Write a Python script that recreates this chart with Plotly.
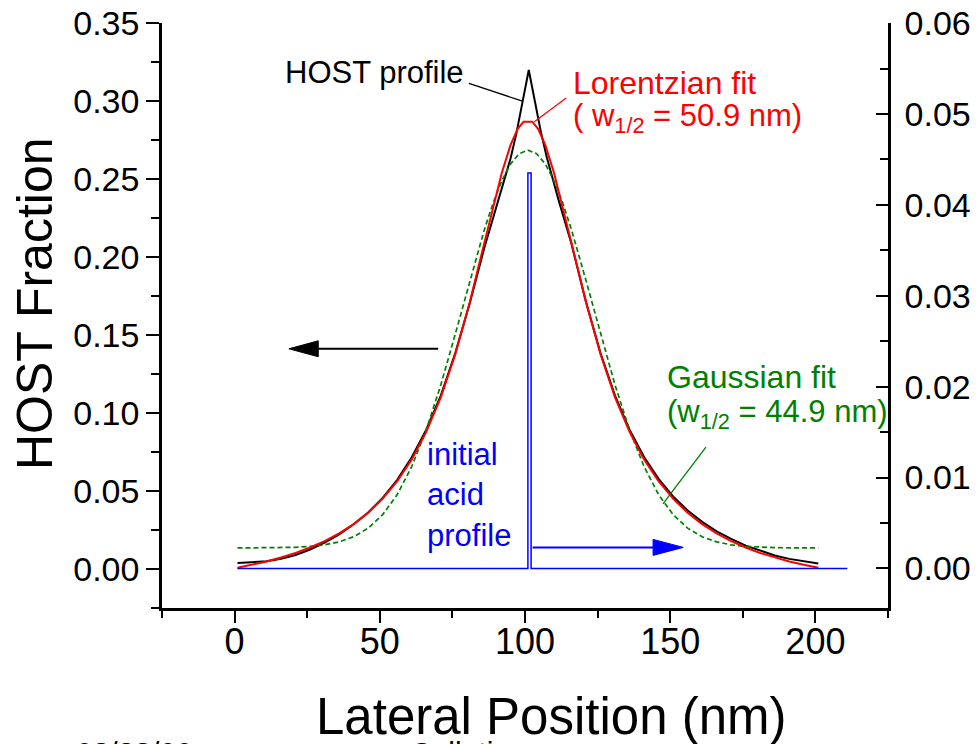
import plotly.graph_objects as go

# ---- data -------------------------------------------------------------
# HOST profile (simulated), lateral position in nm
host_x = [1, 6, 11, 16, 21, 26, 31, 36, 41, 46, 51, 56, 61, 66, 71, 76, 81, 86,
          91, 93, 95, 97, 99, 101.3, 103.5, 105.5, 107.5, 109.5, 111.5,
          116, 121, 126, 131, 136, 141, 146, 151, 156, 161, 166, 171, 176,
          181, 186, 191, 196, 201]
host_y = [0.0038, 0.0042, 0.0050, 0.0066, 0.0090, 0.0125, 0.0170, 0.0222,
          0.0287, 0.0363, 0.0456, 0.0572, 0.0716, 0.0893, 0.1112, 0.1385,
          0.1705, 0.2060, 0.2375, 0.2500, 0.2630, 0.2790, 0.2985, 0.3200,
          0.2990, 0.2800, 0.2640, 0.2500, 0.2370, 0.2085, 0.1712, 0.1385,
          0.1112, 0.0893, 0.0718, 0.0578, 0.0465, 0.0375, 0.0302, 0.0242,
          0.0193, 0.0150, 0.0116, 0.0087, 0.0065, 0.0048, 0.0035]

# Lorentzian fit (w1/2 = 50.9 nm)
lor_w = 50.9
lor_x = [1, 6, 11, 16, 21, 26, 31, 36, 41, 46, 51, 56, 61, 66, 71, 76, 81, 86,
         89, 92, 95, 97.5, 99.5, 102.5, 104.5, 107, 110, 113, 116, 121, 126,
         131, 136, 141, 146, 151, 156, 161, 166, 171, 176, 181, 186, 191,
         196, 201]
lor_y = [0.0008, 0.0027, 0.0048, 0.0074, 0.0103, 0.0138, 0.0179, 0.0228,
         0.0288, 0.0361, 0.0451, 0.0563, 0.0703, 0.0879, 0.1101, 0.1378,
         0.1712, 0.2091, 0.2323, 0.2539, 0.2718, 0.2822, 0.2868, 0.2868,
         0.2822, 0.2718, 0.2539, 0.2323, 0.2091, 0.1712, 0.1378, 0.1101,
         0.0879, 0.0703, 0.0563, 0.0451, 0.0361, 0.0288, 0.0228, 0.0179,
         0.0138, 0.0103, 0.0074, 0.0048, 0.0027, 0.0008]

# Gaussian fit (w1/2 = 44.9 nm)
gau_w = 44.9
gau_x = [1, 6, 11, 16, 21, 26, 31, 36, 41, 46, 51, 56, 61, 66, 71, 76, 81, 86,
         89, 92, 95, 98, 101, 104, 107, 110, 113, 116, 121, 126, 131, 136,
         141, 146, 151, 156, 161, 166, 171, 176, 181, 186, 191, 196, 201]
gau_y = [0.0135, 0.0135, 0.0136, 0.0137, 0.0139, 0.0145, 0.0155, 0.0174,
         0.0207, 0.0262, 0.0349, 0.0477, 0.0657, 0.0892, 0.1180, 0.1507,
         0.1850, 0.2176, 0.2346, 0.2489, 0.2597, 0.2663, 0.2686, 0.2663,
         0.2597, 0.2489, 0.2346, 0.2176, 0.1850, 0.1507, 0.1180, 0.0892,
         0.0657, 0.0477, 0.0349, 0.0262, 0.0207, 0.0174, 0.0155, 0.0145,
         0.0139, 0.0137, 0.0136, 0.0135, 0.0135]

# initial acid profile (right axis)
acid_x = [1, 101.0, 101.0, 102.1, 102.1, 211]
acid_y = [0.0, 0.0, 0.0435, 0.0435, 0.0, 0.0]

x_ticks = [0, 50, 100, 150, 200]

FONT = "Arial, 'Liberation Sans', sans-serif"
BLUE = "#0000FF"
RED = "#FF0000"
GREEN = "#008000"

fig = go.Figure()

fig.add_trace(go.Scatter(x=acid_x, y=acid_y, mode="lines", yaxis="y2",
                         line=dict(color=BLUE, width=1.5)))
fig.add_trace(go.Scatter(x=host_x, y=host_y, mode="lines",
                         line=dict(color="black", width=2)))
fig.add_trace(go.Scatter(x=gau_x, y=gau_y, mode="lines",
                         line=dict(color=GREEN, width=1.7, dash="5px,3px")))
fig.add_trace(go.Scatter(x=lor_x, y=lor_y, mode="lines",
                         line=dict(color=RED, width=2)))

# ---- arrows and leader lines -----------------------------------------
shapes = []


def arrow(x_tail, x_tip, y, color, yref, half_h, head_len):
    base = x_tip + head_len if x_tip < x_tail else x_tip - head_len
    shapes.append(dict(type="line", xref="x", yref=yref, x0=x_tail, x1=base,
                       y0=y, y1=y, line=dict(color=color, width=2)))
    shapes.append(dict(type="path", xref="x", yref=yref, fillcolor=color,
                       line=dict(color=color, width=1),
                       path=f"M {x_tip},{y} L {base},{y + half_h} "
                            f"L {base},{y - half_h} Z"))


# HOST fraction -> left axis
arrow(70.1, 18.7, 0.1412, "black", "y", 0.0051, 10.1)
# acid profile -> right axis
arrow(102.6, 154.5, 0.00231, BLUE, "y2", 0.00088, 10.4)


def leader(x0, y0, x1, y1, color):
    shapes.append(dict(type="line", xref="x", yref="y", x0=x0, y0=y0,
                       x1=x1, y1=y1, line=dict(color=color, width=1.3)))


leader(80.7, 0.3114, 99.1, 0.3000, "black")
leader(114.2, 0.3020, 103.2, 0.2868, RED)
leader(162.3, 0.0782, 147.5, 0.0417, GREEN)

# ---- text ---------------------------------------------------------------
ann = []


def label(text, x, y, color, size=31, **kw):
    d = dict(text=text, x=x, y=y, xref="x", yref="y", showarrow=False,
             xanchor="left", yanchor="middle", align="left",
             font=dict(family=FONT, size=size, color=color))
    d.update(kw)
    ann.append(d)


label("HOST profile", 16.8, 0.3182, "black")
label("Lorentzian fit", 115.8, 0.3118, RED, size=32)
label(f"( w<sub>1/2</sub> = {lor_w} nm)", 115.8, 0.2894, RED)
label("Gaussian fit", 148.3, 0.1229, GREEN, size=32)
label(f"(w<sub>1/2</sub> = {gau_w} nm)", 148.3, 0.0997, GREEN)
label("initial<br>acid<br>profile", 65.6, 0.0475, BLUE)

# axis titles
ann.append(dict(text="Lateral Position (nm)", xref="paper", yref="paper",
                x=0.5365, y=-0.1863, xanchor="center", yanchor="middle",
                showarrow=False, font=dict(family=FONT, size=51, color="black")))
ann.append(dict(text="HOST Fraction", xref="paper", yref="paper",
                x=-0.1749, y=0.5197, xanchor="center", yanchor="middle",
                textangle=-90, showarrow=False,
                font=dict(family=FONT, size=50, color="black")))
# footer line
ann.append(dict(text="08/28/00", xref="paper", yref="paper", x=-0.1212,
                y=-0.216, xanchor="left", yanchor="top", showarrow=False,
                font=dict(family=FONT, size=30, color="black")))
ann.append(dict(text="Collation", xref="paper", yref="paper", x=0.3388,
                y=-0.216, xanchor="left", yanchor="top", showarrow=False,
                font=dict(family=FONT, size=30, color="black")))

axis_common = dict(showgrid=False, zeroline=False, showline=True,
                   linecolor="black", linewidth=2.5, tickcolor="black",
                   tickwidth=2, color="black", automargin=False)

fig.update_layout(
    width=980, height=744,
    margin=dict(l=162, r=92, t=23, b=136, pad=0, autoexpand=False),
    plot_bgcolor="white", paper_bgcolor="white",
    showlegend=False,
    shapes=shapes, annotations=ann,
    xaxis=dict(range=[-25, 225], tickmode="array", tickvals=x_ticks,
               ticks="outside", ticklen=12, ticklabelstandoff=-12,
               tickfont=dict(family=FONT, size=36, color="black"),
               minor=dict(dtick=25, tick0=0, ticks="outside", ticklen=7,
                          tickwidth=2, tickcolor="black"),
               **axis_common),
    yaxis=dict(range=[-0.025, 0.3501], dtick=0.05, tick0=0, tickformat=".2f",
               ticks="outside", ticklen=13,
               tickfont=dict(family=FONT, size=34, color="black"),
               minor=dict(dtick=0.025, tick0=0, ticks="outside", ticklen=8,
                          tickwidth=2, tickcolor="black"),
               **axis_common),
    yaxis2=dict(range=[-0.00436, 0.06001], dtick=0.01, tick0=0,
                tickformat=".2f", overlaying="y", side="right",
                ticks="inside", ticklen=12, ticklabelstandoff=7,
                tickfont=dict(family=FONT, size=34, color="black"),
                minor=dict(dtick=0.005, tick0=0, ticks="inside", ticklen=8,
                           tickwidth=2, tickcolor="black"),
                **axis_common),
)

fig.write_html("out.html")
